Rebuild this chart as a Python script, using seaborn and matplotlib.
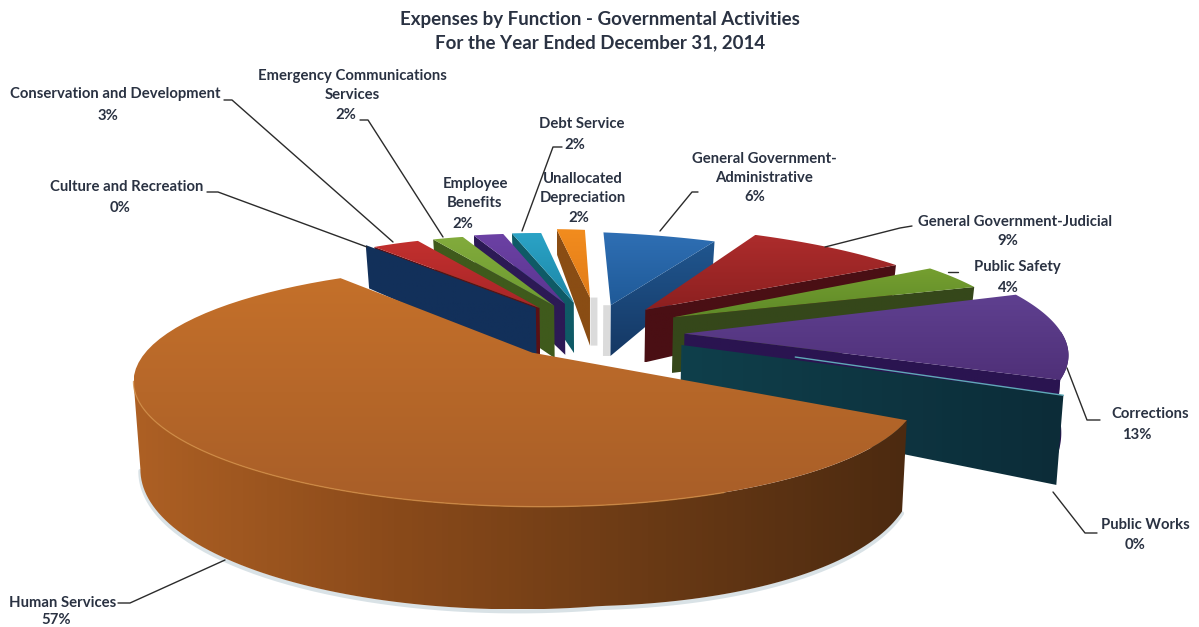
import numpy as np
import matplotlib
matplotlib.use("Agg")
import matplotlib.pyplot as plt
from matplotlib.patches import Polygon
import seaborn as sns

# Expense shares, clockwise from twelve o'clock
categories = ["General Government-\nAdministrative", "General Government-Judicial", "Public Safety",
              "Corrections", "Public Works", "Human Services", "Culture and Recreation",
              "Conservation and Development", "Emergency Communications\nServices",
              "Employee\nBenefits", "Debt Service", "Unallocated\nDepreciation"]
shares = [6, 9, 4, 13, 0, 57, 0, 3, 2, 2, 2, 2]

# Slice colours: top face (far edge, near edge) and side wall
top_far = ["#2f6fb4", "#ad2c2c", "#759f30", "#5f4090", "#2f8fa8", "#c4702a",
           "#13325c", "#c2302e", "#82ab3c", "#6c41a4", "#2ba3c6", "#f28c1e"]
top_near = ["#1f5a98", "#8c2020", "#5f8a28", "#4f3078", "#2f8fa8", "#a85e28",
            "#13325c", "#a82528", "#6c9a30", "#5a3590", "#1c86a6", "#e27c18"]
wall_col = ["#1d4c82", "#4a0f14", "#35471a", "#2a1450", "#0e3a46", "#80451a",
            "#12305a", "#5a1015", "#3f5a1c", "#2c1a55", "#0f5a66", "#8a4d14"]

# Where each slice sits on the pie plate: hub, arc centre, arc radii and arc tilt
hubs = [(.07, .46), (.17, .42), (.25, .35), (.275, .2), (.26, .1), (-.15, .05),
        (-.14, .43), (-.13, .43), (-.09, .45), (-.06, .47), (-.035, .48), (.012, .53)]
arc_centres = [None, None, None, None, None, (-.01, -.1),
               None, None, None, None, None, None]
radii = [(1.0, .75), (1.15, .9), (1.22, .97), (1.37, 1.15), (1.36, 1.25), (.99, .92),
         (.72, .72), (.7, .7), (.7, .7), (.7, .7), (.7, .7), (.7, .7)]
arc_tilt = [0, 0, 0, 0, 0, -.1, 0, 0, 0, 0, 0, 0]

# Leader lines and label anchors, one entry per category
leader_x = [[660, 692, 698], [825, 900, 912], [948, 958], [1067, 1087, 1100], [1053, 1085, 1097],
            [225, 130, 118], [367, 218, 207], [393, 232, 224], [443, 368, 360],
            [], [522, 553, 562], []]
leader_y = [[231, 192, 192], [247, 228, 226], [272, 272], [368, 420, 420], [492, 533, 533],
            [560, 603, 603], [247, 192, 192], [242, 100, 100], [237, 120, 120],
            [], [231, 147, 147], []]
name_x = [764, 1015, 1017, 1150, 1145, 63, 127, 115, 352, 475, 582, 583]
name_y = [158, 222, 267, 414, 525, 603, 187, 94, 75, 183, 124, 178]
pct_x = [755, 1008, 1008, 1137, 1135, 56, 120, 108, 346, 463, 575, 579]
pct_y = [197, 241, 288, 435, 545, 620, 208, 116, 115, 224, 145, 218]

sns.set_theme(style="white")
plt.rcParams["font.family"] = ["Lato", "DejaVu Sans"]

fig = plt.figure(figsize=(11.99, 6.27), dpi=100)
ax = fig.add_axes([0, 0, 1, 1])
W, H = 1199, 627


def project(u, v):
    """Perspective view of the pie plate, in figure pixels."""
    u, v = np.asarray(u, float), np.asarray(v, float)
    w = 1 + .145 * v + .17 * u
    return (590 + 476 * u + 77 * v) / w, (358 + 55 * u - 71 * v) / w


def drop(x, y, u, v):
    """Lower edge of the pie's thickness below a plate point."""
    x, y, u, v = (np.asarray(a, float) for a in (x, y, u, v))
    depth = 66 - 34 * v + 6 * np.maximum(u, 0) + 18 * np.maximum(-u, 0)
    return x + (590 - x) * .015, y + depth


def rim(i, a, b, n=60):
    t = np.linspace(a, b, n)
    c = arc_centres[i] or hubs[i]
    return (c[0] + radii[i][0] * np.sin(t),
            c[1] + radii[i][1] * np.cos(t) + arc_tilt[i] * np.sin(t))


def gradient_fill(pts, c0, c1, z, horizontal=False, colours=None):
    """Fill a polygon with a linear colour ramp."""
    pts = np.asarray(pts)
    cmap = sns.blend_palette(colours or [c0, c1], 128, as_cmap=True)
    ramp = np.linspace(0, 1, 128)
    ramp = ramp[None, :] if horizontal else ramp[:, None]
    patch = Polygon(pts, closed=True, fc="none", ec="none", zorder=z)
    ax.add_patch(patch)
    x0, y0 = pts.min(axis=0)
    x1, y1 = pts.max(axis=0)
    im = ax.imshow(ramp, cmap=cmap, extent=(x0, x1, y1, y0), aspect="auto",
                   vmin=0, vmax=1, zorder=z, origin="upper")
    im.set_clip_path(patch)


def radial_wall(i, angle, z, c0=None, c1=None, horizontal=True):
    ru, rv = rim(i, angle, angle, 1)
    hu, hv = hubs[i]
    tx, ty = project([hu, ru[0]], [hv, rv[0]])
    bx, by = drop(tx, ty, [hu, ru[0]], [hv, rv[0]])
    pts = np.array([[tx[0], ty[0]], [tx[1], ty[1]], [bx[1], by[1]], [bx[0], by[0]]])
    gradient_fill(pts, c0 or wall_col[i], c1 or wall_col[i], z, horizontal=horizontal)


def rim_wall(i, a, b, colours, z):
    ru, rv = rim(i, a, b, 120)
    tx, ty = project(ru, rv)
    bx, by = drop(tx, ty, ru, rv)
    pts = np.r_[np.c_[tx, ty], np.c_[bx, by][::-1]]
    gradient_fill(pts, None, None, z, horizontal=True, colours=colours)


def top_face(i, a, b, z):
    ru, rv = rim(i, a, b, 80)
    hu, hv = hubs[i]
    x, y = project(np.r_[hu, ru], np.r_[hv, rv])
    gradient_fill(np.c_[x, y], top_far[i], top_near[i], z)


edges = np.deg2rad(np.r_[0, np.cumsum(shares)] * 3.6)
start, stop = edges[:-1], edges[1:]
z = 2

# Back fan of small slices, far right to near left: each shows its left wall
for i in [11, 10, 9, 8, 7, 6]:
    radial_wall(i, start[i], z)
    if shares[i] > 0:
        top_face(i, start[i], stop[i], z + 1)
    z += 2

# Soft shadows either side of the gap at twelve o'clock
for i, dx in [(11, 4), (0, -4)]:
    hx, hy = project(*hubs[i])
    bx, by = drop(hx, hy, *hubs[i])
    ax.plot([hx + dx, bx + dx], [hy, by], color="#9a9a9a", lw=5, alpha=.35,
            solid_capstyle="butt", zorder=1)

# Right-hand slices, back to front: each shows its trailing wall
for i in [0, 1, 2, 3, 4]:
    if i == 3:
        rim_wall(3, np.pi / 2, stop[3], [wall_col[3], wall_col[3]], z)
    if i == 4:
        radial_wall(4, stop[4], z, "#0f3f4b", "#0c2c38")
        ru, rv = rim(4, stop[4], stop[4], 1)
        lx, ly = project([.6, ru[0]], [-.02, rv[0]])
        ax.plot(lx, ly, color="#5fa9b8", lw=1, zorder=z + 1)
    elif i == 0:
        radial_wall(0, stop[0], z, "#20568f", "#153864", horizontal=False)
    else:
        radial_wall(i, stop[i], z)
    if shares[i] > 0:
        top_face(i, start[i], stop[i], z + 1)
    z += 2

# Dominant slice sits nearest the viewer; its wall ends at the plate's left silhouette
i = 5
sweep = np.linspace(start[i], stop[i], 400)
left_edge = sweep[np.argmin(project(*rim(i, start[i], stop[i], 400))[0])]
ru, rv = rim(i, start[i], left_edge, 160)
sx, sy = project(ru, rv)
bx, by = drop(sx, sy, ru, rv)
ax.plot(bx, by + 2, color="#c9d6dc", lw=3, alpha=.7, zorder=z)
z += 1
rim_wall(i, start[i], left_edge, ["#ad6024", "#8a4a1a", "#6a3a15", "#4c2a10"], z)
z += 1
top_face(i, start[i], stop[i], z)
ax.plot(sx[50:], sy[50:], color="#cf8a42", lw=1, alpha=.8, zorder=z + 1)
z += 2

# Leader lines
for lx, ly in zip(leader_x, leader_y):
    if lx:
        sns.lineplot(x=lx, y=ly, estimator=None, sort=False, color="#2b2b2b", lw=1,
                     ax=ax, legend=False, zorder=z)

# Category labels, with their percentages set just below
ink = "#2a3242"
for name, pct, nx, ny, px, py in zip(categories, shares, name_x, name_y, pct_x, pct_y):
    lines = name.count("\n")
    ax.text(nx, ny + lines * 10.5, name, ha="center", va="center", fontsize=10.7, color=ink,
            fontweight="bold", linespacing=1.5, zorder=z)
    ax.text(px, py, f"{pct}%", ha="center", va="center", fontsize=10.7, color=ink,
            fontweight="bold", zorder=z)

ax.text(600, 19, "Expenses by Function - Governmental Activities", ha="center", va="center",
        fontsize=13.5, fontweight="bold", color=ink, zorder=z)
ax.text(600, 43, "For the Year Ended December 31, 2014", ha="center", va="center",
        fontsize=13.5, fontweight="bold", color=ink, zorder=z)

ax.set_xlim(0, W)
ax.set_ylim(H, 0)
ax.set_axis_off()
fig.savefig("out.png", dpi=100, facecolor="white")
